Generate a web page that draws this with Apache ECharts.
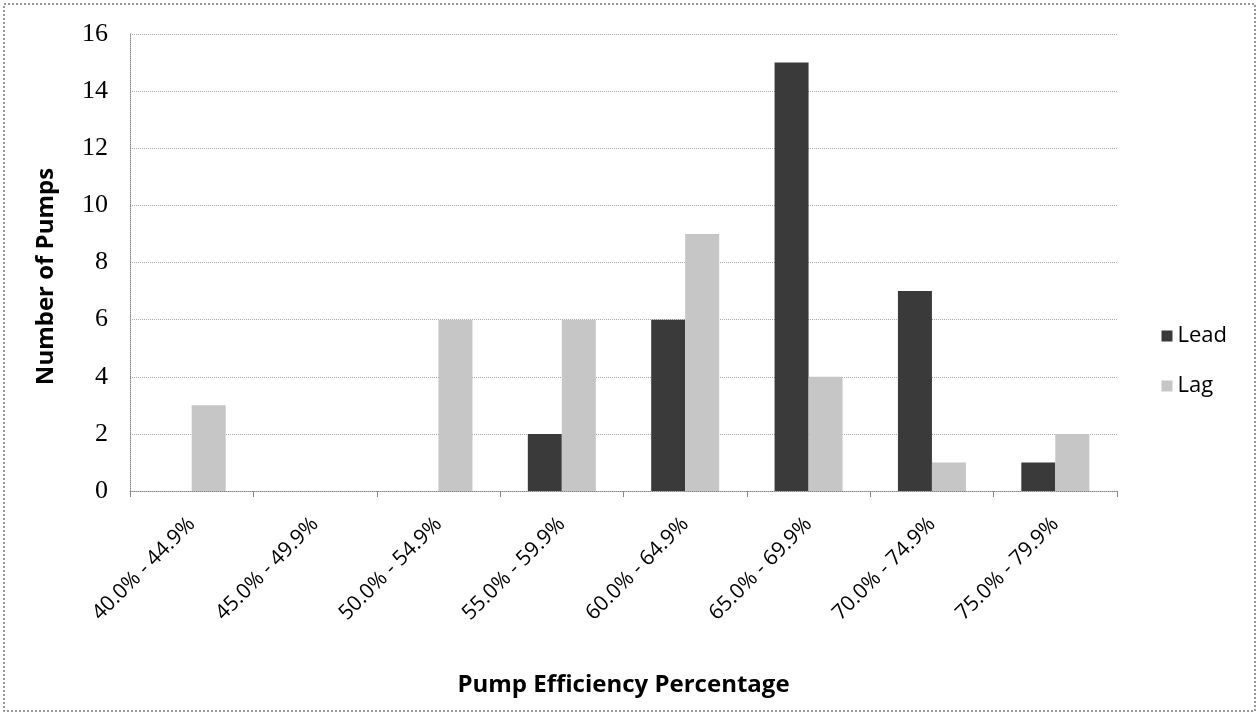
<!DOCTYPE html>
<html><head><meta charset="utf-8">
<script src="https://cdn.jsdelivr.net/npm/echarts@6/dist/echarts.min.js"></script>
<style>html,body{margin:0;padding:0;background:#fff}#c{width:1260px;height:716px}</style>
</head><body><div id="c"></div>
<script>
const categories = ["40.0% - 44.9%","45.0% - 49.9%","50.0% - 54.9%","55.0% - 59.9%","60.0% - 64.9%","65.0% - 69.9%","70.0% - 74.9%","75.0% - 79.9%"];
const leadValues = [0,0,0,2,6,15,7,1];
const lagValues = [3,0,6,6,9,4,1,2];
const seriesNames = ["Lead","Lag"];
const xTitle = "Pump Efficiency Percentage";
const yTitle = "Number of Pumps";

const sans = '"Open Sans", "Liberation Sans", sans-serif';
const chart = echarts.init(document.getElementById('c'));
chart.setOption({
  animation:false,
  backgroundColor:'#fff',
  graphic:[{type:'rect',shape:{x:4,y:4,width:1251,height:707},style:{fill:'none',stroke:'#777',lineWidth:1.5,lineDash:[2,2]}}],
  grid:{left:130,right:143,top:34,bottom:225},
  legend:{orient:'vertical',right:28,top:320,itemWidth:11,itemHeight:11,itemGap:28,icon:'rect',
    textStyle:{fontFamily:sans,fontSize:22,color:'#000'},data:seriesNames},
  xAxis:{type:'category',data:categories,name:xTitle,nameLocation:'middle',nameGap:182,
    nameTextStyle:{fontFamily:sans,fontWeight:'bold',fontSize:24,color:'#000'},
    axisLine:{lineStyle:{color:'#888',type:'dotted'}},
    axisTick:{show:true,length:6,lineStyle:{color:'#888'}},
    axisLabel:{rotate:45,fontFamily:sans,fontSize:21,color:'#000',margin:30}},
  yAxis:{type:'value',min:0,max:16,interval:2,name:yTitle,nameLocation:'middle',nameGap:72,
    nameTextStyle:{fontFamily:sans,fontWeight:'bold',fontSize:24,color:'#000',padding:[0,28,0,0]},
    axisLine:{show:true,lineStyle:{color:'#888',type:'dotted'}},
    axisTick:{show:false},
    axisLabel:{fontFamily:'"Liberation Serif", "DejaVu Serif", serif',fontSize:26,color:'#000',margin:22},
    splitLine:{lineStyle:{color:'#aaa',type:'dotted'}}},
  series:[
    {name:seriesNames[0],type:'bar',data:leadValues,barWidth:34,barGap:'0%',itemStyle:{color:'#3a3a3a'}},
    {name:seriesNames[1],type:'bar',data:lagValues,barWidth:34,barGap:'0%',itemStyle:{color:'#c6c6c6'}}
  ]
});
</script></body></html>
